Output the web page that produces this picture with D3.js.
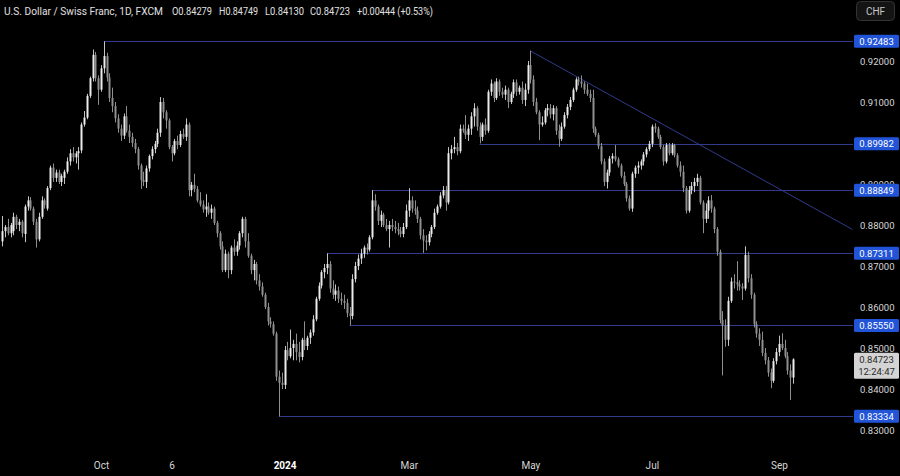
<!DOCTYPE html>
<html><head><meta charset="utf-8">
<script src="https://cdn.jsdelivr.net/npm/d3@7"></script>
<style>html,body{margin:0;padding:0;background:#000;}svg{display:block;}</style>
</head><body>
<svg id="chart" width="900" height="476"></svg>
<script>
// ---- data (USD/CHF daily, FXCM) ----
const firstDate = "2023-08-14";   // first weekday bar shown
const opens = [
0.8760,0.8785,0.8795,0.8780,0.8785,0.8820,0.8800,0.8808,0.8778,0.8845,
0.8860,0.8840,0.8808,0.8765,0.8820,0.8860,0.8840,0.8890,0.8940,0.8915,
0.8928,0.8905,0.8915,0.8930,0.8955,0.8975,0.8965,0.8975,0.8982,0.9045,
0.9062,0.9115,0.9158,0.9215,0.9158,0.9130,0.9182,0.9212,0.9160,0.9110,
0.9090,0.9060,0.9035,0.9018,0.9065,0.9030,0.9015,0.9000,0.8985,0.8945,
0.8910,0.8905,0.8938,0.8968,0.8985,0.8998,0.9025,0.9100,0.9075,0.9055,
0.8990,0.8975,0.9005,0.8995,0.9022,0.9015,0.9045,0.8885,0.8898,0.8888,
0.8860,0.8850,0.8838,0.8845,0.8830,0.8840,0.8805,0.8780,0.8748,0.8690,
0.8730,0.8690,0.8745,0.8735,0.8750,0.8780,0.8815,0.8760,0.8725,0.8690,
0.8705,0.8665,0.8650,0.8630,0.8600,0.8565,0.8558,0.8535,0.8430,0.8415,
0.8410,0.8495,0.8480,0.8500,0.8510,0.8490,0.8478,0.8520,0.8505,0.8525,
0.8538,0.8570,0.8620,0.8652,0.8685,0.8695,0.8705,0.8645,0.8630,0.8640,
0.8620,0.8615,0.8610,0.8585,0.8578,0.8668,0.8700,0.8718,0.8730,0.8745,
0.8740,0.8770,0.8860,0.8845,0.8810,0.8825,0.8800,0.8790,0.8800,0.8795,
0.8790,0.8785,0.8778,0.8795,0.8835,0.8860,0.8840,0.8835,0.8815,0.8775,
0.8762,0.8758,0.8778,0.8795,0.8830,0.8845,0.8872,0.8885,0.8855,0.8975,
0.8985,0.8990,0.8980,0.9035,0.9030,0.9020,0.9035,0.9065,0.9085,0.9040,
0.9015,0.9045,0.9030,0.9125,0.9145,0.9110,0.9150,0.9125,0.9118,0.9130,
0.9100,0.9120,0.9148,0.9125,0.9135,0.9105,0.9130,0.9190,0.9155,0.9100,
0.9075,0.9045,0.9050,0.9080,0.9085,0.9070,0.9085,0.9030,0.9010,0.9040,
0.9068,0.9088,0.9105,0.9130,0.9155,0.9150,0.9145,0.9130,0.9120,0.9110,
0.9035,0.9020,0.8992,0.8955,0.8905,0.8928,0.8962,0.8968,0.8960,0.8945,
0.8920,0.8900,0.8865,0.8840,0.8925,0.8940,0.8945,0.8955,0.8972,0.8985,
0.8998,0.9040,0.9035,0.9015,0.8990,0.8955,0.8995,0.8975,0.8995,0.8970,
0.8945,0.8930,0.8890,0.8835,0.8885,0.8895,0.8905,0.8915,0.8855,0.8815,
0.8835,0.8860,0.8840,0.8790,0.8735,0.8568,0.8555,0.8520,0.8615,0.8662,
0.8660,0.8655,0.8650,0.8645,0.8727,0.8670,0.8630,0.8558,0.8535,0.8520,
0.8488,0.8470,0.8440,0.8420,0.8468,0.8490,0.8510,0.8500,0.8480,0.8445,
0.84279];
const highs = [
0.8822,0.8800,0.8815,0.8805,0.8830,0.8825,0.8815,0.8812,0.8850,0.8870,
0.8868,0.8845,0.8815,0.8830,0.8870,0.8865,0.8895,0.8945,0.8950,0.8935,
0.8935,0.8925,0.8935,0.8965,0.8985,0.8990,0.8980,0.8990,0.9050,0.9078,
0.9120,0.9162,0.9228,0.9222,0.9165,0.9190,0.9248,0.9220,0.9170,0.9135,
0.9100,0.9070,0.9045,0.9072,0.9090,0.9045,0.9025,0.9010,0.8990,0.8950,
0.8930,0.8945,0.8972,0.8992,0.9005,0.9035,0.9112,0.9110,0.9080,0.9060,
0.8995,0.9010,0.9018,0.9030,0.9035,0.9060,0.9050,0.8905,0.8925,0.8895,
0.8880,0.8860,0.8875,0.8855,0.8850,0.8845,0.8810,0.8785,0.8760,0.8740,
0.8735,0.8750,0.8765,0.8760,0.8785,0.8820,0.8820,0.8780,0.8730,0.8715,
0.8710,0.8680,0.8660,0.8635,0.8610,0.8575,0.8565,0.8540,0.8445,0.8440,
0.8505,0.8515,0.8545,0.8520,0.8535,0.8515,0.8525,0.8565,0.8530,0.8545,
0.8580,0.8625,0.8660,0.8690,0.8705,0.8731,0.8712,0.8665,0.8655,0.8650,
0.8635,0.8630,0.8620,0.8600,0.8680,0.8710,0.8728,0.8742,0.8750,0.8755,
0.8775,0.8885,0.8875,0.8850,0.8835,0.8830,0.8815,0.8810,0.8815,0.8810,
0.8805,0.8795,0.8805,0.8850,0.8890,0.8870,0.8860,0.8845,0.8820,0.8790,
0.8775,0.8785,0.8800,0.8840,0.8850,0.8880,0.8895,0.8895,0.8990,0.8995,
0.9015,0.9000,0.9045,0.9045,0.9068,0.9045,0.9075,0.9097,0.9090,0.9050,
0.9050,0.9060,0.9130,0.9155,0.9150,0.9158,0.9155,0.9135,0.9140,0.9135,
0.9125,0.9155,0.9155,0.9140,0.9150,0.9145,0.9200,0.9225,0.9165,0.9110,
0.9080,0.9065,0.9085,0.9095,0.9095,0.9092,0.9090,0.9045,0.9050,0.9075,
0.9095,0.9112,0.9135,0.9160,0.9162,0.9165,0.9150,0.9145,0.9130,0.9130,
0.9040,0.9025,0.9000,0.8962,0.8935,0.8968,0.8975,0.8995,0.8965,0.8950,
0.8930,0.8905,0.8872,0.8930,0.8945,0.8955,0.8960,0.8978,0.8990,0.9005,
0.9045,0.9048,0.9040,0.9020,0.8995,0.9000,0.9000,0.9000,0.8998,0.8975,
0.8955,0.8945,0.8895,0.8895,0.8905,0.8915,0.8925,0.8920,0.8860,0.8853,
0.8870,0.8873,0.8845,0.8795,0.8740,0.8590,0.8570,0.8625,0.8672,0.8680,
0.8712,0.8665,0.8658,0.8748,0.8735,0.8680,0.8635,0.8565,0.8548,0.8540,
0.8500,0.8478,0.8450,0.8475,0.8500,0.8530,0.8536,0.8520,0.8490,0.8460,
0.84749];
const lows = [
0.8748,0.8770,0.8775,0.8770,0.8775,0.8790,0.8785,0.8770,0.8758,0.8835,
0.8835,0.8800,0.8745,0.8760,0.8815,0.8840,0.8835,0.8885,0.8905,0.8905,
0.8900,0.8895,0.8900,0.8925,0.8945,0.8955,0.8950,0.8935,0.8975,0.9040,
0.9058,0.9110,0.9150,0.9150,0.9093,0.9125,0.9170,0.9150,0.9100,0.9075,
0.9050,0.9025,0.9005,0.9010,0.9025,0.9000,0.8990,0.8975,0.8935,0.8888,
0.8895,0.8890,0.8930,0.8960,0.8975,0.8990,0.9015,0.9060,0.9035,0.8985,
0.8955,0.8970,0.8985,0.8990,0.9010,0.9005,0.8870,0.8870,0.8880,0.8855,
0.8845,0.8830,0.8820,0.8825,0.8815,0.8800,0.8770,0.8740,0.8685,0.8685,
0.8670,0.8680,0.8725,0.8725,0.8740,0.8770,0.8745,0.8720,0.8680,0.8665,
0.8655,0.8640,0.8625,0.8595,0.8555,0.8550,0.8530,0.8420,0.8333,0.8400,
0.8400,0.8470,0.8475,0.8470,0.8470,0.8465,0.8470,0.8495,0.8495,0.8510,
0.8530,0.8565,0.8615,0.8645,0.8670,0.8680,0.8635,0.8620,0.8615,0.8610,
0.8605,0.8595,0.8575,0.8555,0.8570,0.8660,0.8690,0.8705,0.8720,0.8728,
0.8735,0.8765,0.8835,0.8800,0.8795,0.8795,0.8785,0.8745,0.8785,0.8780,
0.8775,0.8770,0.8770,0.8790,0.8820,0.8830,0.8825,0.8805,0.8765,0.8732,
0.8738,0.8750,0.8770,0.8790,0.8825,0.8840,0.8865,0.8835,0.8850,0.8960,
0.8975,0.8970,0.8975,0.9025,0.9010,0.9005,0.9020,0.9040,0.9030,0.8999,
0.9005,0.9020,0.9025,0.9115,0.9100,0.9105,0.9115,0.9110,0.9105,0.9085,
0.9095,0.9110,0.9115,0.9118,0.9095,0.9090,0.9120,0.9145,0.9090,0.9070,
0.9007,0.9040,0.9045,0.9065,0.9060,0.9055,0.9020,0.8991,0.9005,0.9035,
0.9060,0.9080,0.9100,0.9125,0.9140,0.9135,0.9120,0.9115,0.9100,0.9025,
0.9015,0.8985,0.8948,0.8895,0.8889,0.8920,0.8950,0.8955,0.8940,0.8915,
0.8895,0.8857,0.8835,0.8832,0.8915,0.8925,0.8935,0.8945,0.8965,0.8980,
0.8990,0.9025,0.9010,0.8985,0.8945,0.8950,0.8970,0.8970,0.8965,0.8940,
0.8918,0.8880,0.8828,0.8830,0.8875,0.8880,0.8895,0.8850,0.8780,0.8805,
0.8815,0.8830,0.8780,0.8725,0.8560,0.8433,0.8503,0.8505,0.8610,0.8645,
0.8640,0.8640,0.8617,0.8640,0.8660,0.8620,0.8550,0.8525,0.8505,0.8480,
0.8460,0.8430,0.8402,0.8415,0.8460,0.8480,0.8495,0.8475,0.8435,0.8373,
0.84130];
const closes = [
0.8785,0.8795,0.8780,0.8800,0.8820,0.8800,0.8808,0.8780,0.8845,0.8860,
0.8840,0.8808,0.8765,0.8820,0.8860,0.8848,0.8890,0.8940,0.8915,0.8928,
0.8905,0.8920,0.8930,0.8955,0.8975,0.8965,0.8975,0.8980,0.9045,0.9062,
0.9115,0.9158,0.9215,0.9158,0.9130,0.9182,0.9212,0.9160,0.9110,0.9090,
0.9060,0.9035,0.9018,0.9065,0.9030,0.9015,0.9000,0.8985,0.8945,0.8910,
0.8905,0.8938,0.8968,0.8985,0.8998,0.9025,0.9100,0.9075,0.9055,0.8990,
0.8975,0.9005,0.8995,0.9022,0.9015,0.9045,0.8885,0.8898,0.8888,0.8860,
0.8850,0.8838,0.8845,0.8830,0.8840,0.8805,0.8780,0.8748,0.8690,0.8730,
0.8690,0.8745,0.8735,0.8750,0.8780,0.8815,0.8760,0.8725,0.8690,0.8705,
0.8665,0.8650,0.8630,0.8600,0.8565,0.8558,0.8535,0.8430,0.8415,0.8410,
0.8495,0.8480,0.8500,0.8510,0.8490,0.8478,0.8520,0.8505,0.8525,0.8538,
0.8570,0.8620,0.8652,0.8685,0.8695,0.8705,0.8645,0.8630,0.8640,0.8620,
0.8615,0.8610,0.8585,0.8578,0.8668,0.8700,0.8718,0.8730,0.8745,0.8740,
0.8770,0.8860,0.8845,0.8810,0.8825,0.8800,0.8790,0.8800,0.8795,0.8790,
0.8785,0.8778,0.8795,0.8835,0.8860,0.8840,0.8835,0.8815,0.8775,0.8762,
0.8758,0.8778,0.8795,0.8830,0.8845,0.8872,0.8885,0.8855,0.8975,0.8985,
0.8990,0.8980,0.9035,0.9030,0.9020,0.9035,0.9065,0.9085,0.9040,0.9015,
0.9045,0.9030,0.9125,0.9145,0.9110,0.9150,0.9125,0.9118,0.9130,0.9100,
0.9120,0.9148,0.9125,0.9135,0.9105,0.9130,0.9190,0.9155,0.9100,0.9075,
0.9045,0.9050,0.9080,0.9085,0.9070,0.9085,0.9030,0.9010,0.9040,0.9068,
0.9088,0.9105,0.9130,0.9155,0.9150,0.9145,0.9130,0.9120,0.9110,0.9035,
0.9020,0.8992,0.8955,0.8905,0.8928,0.8962,0.8968,0.8960,0.8945,0.8920,
0.8900,0.8865,0.8840,0.8925,0.8940,0.8945,0.8955,0.8972,0.8985,0.8998,
0.9040,0.9035,0.9015,0.8990,0.8955,0.8995,0.8975,0.8995,0.8970,0.8945,
0.8930,0.8890,0.8835,0.8885,0.8895,0.8905,0.8915,0.8855,0.8815,0.8835,
0.8860,0.8840,0.8790,0.8735,0.8568,0.8555,0.8520,0.8615,0.8662,0.8660,
0.8655,0.8650,0.8645,0.8727,0.8670,0.8630,0.8558,0.8535,0.8520,0.8488,
0.8470,0.8440,0.8420,0.8468,0.8490,0.8510,0.8500,0.8480,0.8445,0.8428,
0.84723];

// price ticks shown on the axis (0.90000 is hidden behind the 0.89982 label in the reference)
const priceTicks = [0.83, 0.84, 0.85, 0.86, 0.87, 0.88, 0.89, 0.91, 0.92];
const timeTickDates  = ["2023-10-02", "2023-11-06", "2024-01-01", "2024-03-01", "2024-05-01", "2024-07-01", "2024-09-02"];
const timeTickLabels = ["Oct", "6", "2024", "Mar", "May", "Jul", "Sep"];
const levelValues     = [0.92483, 0.89982, 0.88849, 0.87311, 0.85550, 0.83334];
const levelStartDates = ["2023-10-03", "2024-04-05", "2024-02-13", "2024-01-22", "2024-02-01", "2023-12-28"];
const trendDates  = ["2024-05-01", "2024-10-08"];
const trendPrices = [0.92246, 0.87892];
const titleParts = ["U.S. Dollar / Swiss Franc, 1D, FXCM", "O0.84279", "H0.84749", "L0.84130", "C0.84723", "+0.00444 (+0.53%)"];
const countdown = "12:24:47";
const currency  = "CHF";

// ---- helpers ----
const parse = d3.utcParse("%Y-%m-%d");
const t0 = parse(firstDate);
function barIndex(ds) {               // number of weekday bars from firstDate
  const d = parse(ds);
  let n = 0;
  d3.utcDay.range(t0, d).forEach(x => { const w = x.getUTCDay(); if (w !== 0 && w !== 6) n++; });
  return n;
}
const bars = closes.map((c, i) => ({i, o: opens[i], h: highs[i], l: lows[i], c}));

const W = 900, H = 476;
const plotRight = 853;
const x = d3.scaleLinear().domain([0, bars.length - 1]).range([2.1, 793.1]);
const y = d3.scaleLinear().domain([0.83, 0.92]).range([430, 61]);

const svg = d3.select("#chart");
svg.append("rect").attr("width", W).attr("height", H).attr("fill", "#000");
const FONT = "Roboto, 'Liberation Sans', sans-serif";

svg.append("clipPath").attr("id", "plot").append("rect")
  .attr("x", 0).attr("y", 0).attr("width", plotRight).attr("height", H);
const plot = svg.append("g").attr("clip-path", "url(#plot)");

// level lines
const LINE = "#313a8c";
plot.selectAll("line.level").data(levelValues).join("line")
  .attr("class", "level")
  .attr("x1", (v, k) => x(barIndex(levelStartDates[k])))
  .attr("x2", plotRight)
  .attr("y1", v => Math.round(y(v)) + 0.5).attr("y2", v => Math.round(y(v)) + 0.5)
  .attr("stroke", LINE).attr("stroke-width", 1);

// trend line
plot.append("line")
  .attr("x1", x(barIndex(trendDates[0]))).attr("y1", y(trendPrices[0]))
  .attr("x2", x(barIndex(trendDates[1]))).attr("y2", y(trendPrices[1]))
  .attr("stroke", LINE).attr("stroke-width", 1);

// candles
const UP = "#ececec", DOWN = "#8f8f8f", UPWICK = "#c4c4c4";
const bw = 2;
const g = plot.append("g");
g.selectAll("line.wick").data(bars).join("line")
  .attr("class", "wick")
  .attr("x1", d => Math.round(x(d.i)) + 0.5).attr("x2", d => Math.round(x(d.i)) + 0.5)
  .attr("y1", d => y(d.h)).attr("y2", d => y(d.l))
  .attr("stroke", d => d.c >= d.o ? UPWICK : DOWN).attr("stroke-width", 1);
g.selectAll("rect.body").data(bars).join("rect")
  .attr("class", "body")
  .attr("x", d => Math.round(x(d.i)) - 0.5)
  .attr("width", bw)
  .attr("y", d => y(Math.max(d.o, d.c)))
  .attr("height", d => Math.max(1, Math.abs(y(d.o) - y(d.c))))
  .attr("fill", d => d.c >= d.o ? UP : DOWN);

// right price axis
const yAxis = d3.axisRight(y).tickValues(priceTicks).tickFormat(d3.format(".5f")).tickSize(0).tickPadding(7);
const ya = svg.append("g").attr("transform", `translate(${plotRight},0)`).call(yAxis);
ya.select(".domain").remove();
ya.selectAll("text").attr("font-family", FONT).attr("font-size", 9.5).attr("fill", "#d6d6d6");

// level labels
const lab = svg.append("g");
lab.selectAll("rect").data(levelValues).join("rect")
  .attr("x", plotRight + 1).attr("width", 45).attr("y", v => y(v) - 6.5).attr("height", 13)
  .attr("rx", 1.5).attr("fill", "#2254d8");
lab.selectAll("text").data(levelValues).join("text")
  .attr("x", plotRight + 23.5).attr("y", v => y(v)).attr("dy", "0.36em")
  .attr("text-anchor", "middle").attr("font-family", FONT).attr("font-size", 9.5)
  .attr("fill", "#ffffff").text(v => d3.format(".5f")(v));

// current price label
const last = bars[bars.length - 1];
const yc = y(last.c);
svg.append("rect").attr("x", plotRight + 1).attr("width", 45).attr("y", yc - 6.5).attr("height", 26)
  .attr("rx", 1.5).attr("fill", "#d4d4d4");
svg.append("text").attr("x", plotRight + 23.5).attr("y", yc).attr("dy", "0.36em")
  .attr("text-anchor", "middle").attr("font-family", FONT).attr("font-size", 9.5)
  .attr("fill", "#2a2a2a").text(d3.format(".5f")(last.c));
svg.append("text").attr("x", plotRight + 23.5).attr("y", yc + 12).attr("dy", "0.36em")
  .attr("text-anchor", "middle").attr("font-family", FONT).attr("font-size", 9.5)
  .attr("fill", "#2a2a2a").text(countdown);

// time axis
const tickIdx = timeTickDates.map(barIndex);
const xAxis = d3.axisBottom(x).tickValues(tickIdx).tickFormat((d, k) => timeTickLabels[k]).tickSize(0).tickPadding(0);
const xa = svg.append("g").attr("transform", "translate(0,462)").call(xAxis);
xa.select(".domain").remove();
xa.selectAll("text").attr("font-family", FONT).attr("font-size", 10)
  .attr("font-weight", (d, k) => timeTickLabels[k] === "2024" ? "bold" : "normal")
  .attr("fill", (d, k) => timeTickLabels[k] === "2024" ? "#ffffff" : "#d6d6d6");

// title: text pieces placed along the legend line
const titleX = [4, 172, 219, 265, 310, 357];
const titleW = [159, 40, 39, 39, 40, 76];
svg.append("g").selectAll("text").data(titleParts).join("text")
  .attr("x", (d, k) => titleX[k]).attr("y", 15)
  .attr("textLength", (d, k) => titleW[k]).attr("lengthAdjust", "spacingAndGlyphs")
  .attr("font-family", FONT).attr("font-size", 10.2).attr("fill", "#e0e0e0")
  .text(d => d);

// currency button
svg.append("rect").attr("x", 856.5).attr("y", 1.5).attr("width", 38).attr("height", 19).attr("rx", 4)
  .attr("fill", "#141414").attr("stroke", "#333333");
svg.append("text").attr("x", 875.5).attr("y", 11).attr("dy", "0.36em").attr("text-anchor", "middle")
  .attr("font-family", FONT).attr("font-size", 10).attr("fill", "#c8c8c8").text(currency);
</script>
</body></html>
